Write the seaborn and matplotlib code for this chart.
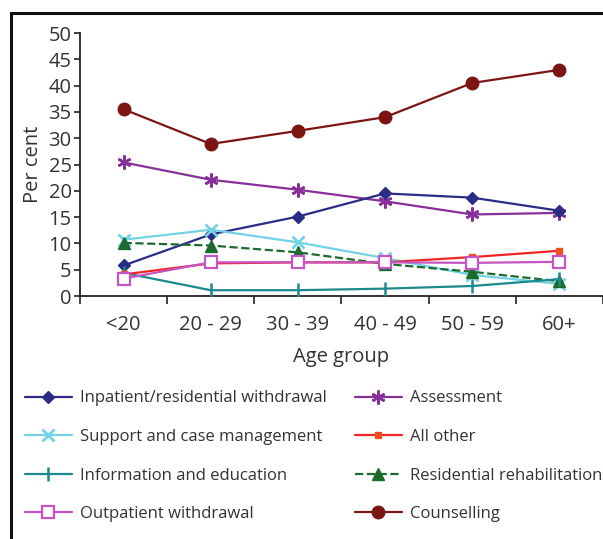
import matplotlib
matplotlib.use("Agg")
import matplotlib.pyplot as plt
import matplotlib.patches as mpatches
import seaborn as sns
import pandas as pd
import numpy as np

age_groups = ["<20", "20 - 29", "30 - 39", "40 - 49", "50 - 59", "60+"]
inpatient = [5.8, 11.7, 15.1, 19.5, 18.7, 16.2]
support = [10.7, 12.6, 10.2, 7.2, 4.0, 2.3]
information = [4.4, 1.1, 1.1, 1.4, 1.9, 3.2]
outpatient = [3.3, 6.4, 6.4, 6.4, 6.3, 6.5]
assessment = [25.4, 22.1, 20.2, 18.0, 15.5, 15.8]
all_other = [4.1, 6.2, 6.4, 6.4, 7.4, 8.6]
residential = [10.1, 9.6, 8.3, 6.1, 4.6, 2.8]
counselling = [35.5, 28.9, 31.4, 34.0, 40.5, 43.0]

series_names = ["Inpatient/residential withdrawal", "Support and case management",
                "Information and education", "Outpatient withdrawal",
                "Assessment", "All other", "Residential rehabilitation", "Counselling"]
series_values = [inpatient, support, information, outpatient,
                 assessment, all_other, residential, counselling]

styles = {
    "Inpatient/residential withdrawal": dict(color="#2A2C86", marker="D", markersize=6.5, ls="-", mfc="#2A2C86"),
    "Support and case management": dict(color="#72D2E6", marker="x", markersize=9, ls="-", mew=2),
    "Information and education": dict(color="#1C8A8C", marker="|", markersize=10, ls="-", mew=1.8),
    "Outpatient withdrawal": dict(color="#C455C2", marker="s", markersize=8, ls="-", mfc="white", mew=1.6),
    "Assessment": dict(color="#87309A", marker=(6, 2, 0), markersize=10, ls="-", mew=1.8),
    "All other": dict(color="#F02424", marker="s", markersize=5, ls="-", mfc="#F05020", mec="#F05020"),
    "Residential rehabilitation": dict(color="#1D6A2E", marker="^", markersize=9, ls="--"),
    "Counselling": dict(color="#7C1414", marker="o", markersize=9, ls="-"),
}

sns.set_style("white")
plt.rcParams["font.family"] = ["Open Sans", "DejaVu Sans"]
text_color = "#333333"

W, H = 603, 539
fig = plt.figure(figsize=(W / 100, H / 100), dpi=100)
ax = fig.add_axes([80 / W, 1 - 296 / H, (603 - 80) / W, (296 - 33) / H])

x = np.arange(len(age_groups))
handles = {}
z = {"Counselling": 3, "Assessment": 3.1, "Inpatient/residential withdrawal": 3.2,
     "Support and case management": 3.3, "Residential rehabilitation": 3.4,
     "Information and education": 3.5, "All other": 3.6, "Outpatient withdrawal": 3.7}
for name, vals in zip(series_names, series_values):
    st = styles[name]
    df = pd.DataFrame({"x": x, "y": vals})
    sns.lineplot(data=df, x="x", y="y", ax=ax, color=st["color"], marker=st["marker"],
                 markersize=st["markersize"], linestyle=st["ls"], linewidth=1.6,
                 markerfacecolor=st.get("mfc", st["color"]),
                 markeredgecolor=st.get("mec", st["color"]),
                 markeredgewidth=st.get("mew", 1.0), zorder=z[name], label=name,
                 legend=False)
    handles[name] = ax.lines[-1]

ax.set_xlim(-0.5, 5.5)
ax.set_ylim(0, 50)
ax.set_yticks(np.arange(0, 51, 5))
ax.set_xticks(np.arange(-0.5, 5.6, 1.0))
ax.set_xticklabels([])
ax.set_xticks(x, minor=True)
ax.set_xticklabels(age_groups, minor=True)
ax.tick_params(axis="x", which="major", length=6, width=1.2, color="#222222", direction="out", bottom=True)
ax.tick_params(axis="x", which="minor", length=0, labelsize=14.5, labelcolor=text_color, pad=14)
ax.tick_params(axis="y", length=4, width=1.2, color="#222222", direction="out", left=True,
               labelsize=14.5, labelcolor=text_color, pad=2)
for s in ["top", "right"]:
    ax.spines[s].set_visible(False)
for s in ["left", "bottom"]:
    ax.spines[s].set_color("#222222")
    ax.spines[s].set_linewidth(1.3)
ax.set_xlabel("Age group", fontsize=14.5, color=text_color, labelpad=8)
ax.set_ylabel("Per cent", fontsize=14.5, color=text_color, labelpad=4)
ax.patch.set_alpha(0)

leg_kw = dict(frameon=False, fontsize=12, handlelength=2.8, handletextpad=0.5,
              labelspacing=1.35, borderpad=0, borderaxespad=0, labelcolor=text_color)
l1 = fig.legend([handles[n] for n in series_names[:4]], series_names[:4],
                loc="upper left", bbox_to_anchor=(25 / W, 1 - 390.5 / H), **leg_kw)
l2 = fig.legend([handles[n] for n in series_names[4:]], series_names[4:],
                loc="upper left", bbox_to_anchor=(355 / W, 1 - 390.5 / H), **leg_kw)

frame = mpatches.Rectangle((11 / W, -0.1), 1.2, 1.1 - 13 / H, transform=fig.transFigure,
                           fill=False, edgecolor="#111111", linewidth=2.2, clip_on=False)
fig.patches.append(frame)

fig.savefig("out.png", dpi=100)
